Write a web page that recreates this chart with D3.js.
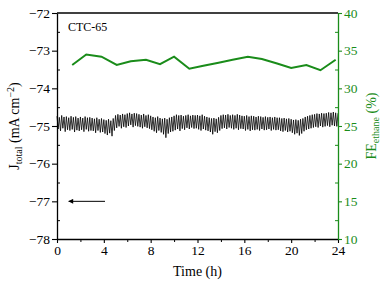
<!DOCTYPE html>
<html><head><meta charset="utf-8">
<script src="https://cdn.jsdelivr.net/npm/d3@7"></script>
<style>body{margin:0;background:#fff}svg{display:block}text{font-family:"Liberation Serif","Times New Roman",serif}</style>
</head><body>
<script>
// Data
const jStart = 0, jStep = 0.1; // h, sampling of the current trace
const jTotal = [
-74.74,-75.08,-74.77,-75.13,-74.72,-75.06,-74.76,-75.15,-74.75,-75.10,
-74.78,-75.12,-74.74,-75.09,-74.77,-75.16,-74.75,-75.11,-74.79,-75.13,
-74.76,-75.10,-74.79,-75.15,-74.75,-75.09,-74.78,-75.14,-74.77,-75.12,
-74.79,-75.13,-74.81,-75.18,-74.78,-75.12,-74.82,-75.17,-74.80,-75.16,
-74.83,-75.20,-74.85,-75.24,-74.82,-75.19,-74.86,-75.27,-74.80,-75.12,
-74.72,-75.05,-74.69,-75.01,-74.71,-75.06,-74.68,-75.02,-74.70,-75.04,
-74.67,-75.00,-74.65,-74.97,-74.68,-75.03,-74.66,-74.99,-74.67,-75.01,
-74.69,-75.03,-74.71,-75.06,-74.68,-75.02,-74.72,-75.05,-74.70,-75.07,
-74.73,-75.10,-74.76,-75.14,-74.78,-75.18,-74.75,-75.12,-74.79,-75.17,
-74.81,-75.22,-74.79,-75.31,-74.82,-75.20,-74.78,-75.16,-74.76,-75.14,
-74.73,-75.11,-74.70,-75.08,-74.72,-75.13,-74.71,-75.07,-74.74,-75.10,
-74.72,-75.05,-74.70,-75.08,-74.73,-75.04,-74.71,-75.07,-74.72,-75.06,
-74.71,-75.09,-74.73,-75.12,-74.70,-75.08,-74.74,-75.11,-74.76,-75.13,
-74.78,-75.16,-74.80,-75.22,-74.79,-75.15,-74.81,-75.18,-74.77,-75.12,
-74.72,-75.07,-74.70,-75.05,-74.71,-75.08,-74.69,-75.04,-74.72,-75.06,
-74.70,-75.09,-74.72,-75.06,-74.69,-75.10,-74.71,-75.07,-74.73,-75.08,
-74.74,-75.12,-74.72,-75.09,-74.75,-75.13,-74.73,-75.10,-74.74,-75.11,
-74.76,-75.09,-74.74,-75.12,-74.75,-75.08,-74.77,-75.11,-74.75,-75.10,
-74.77,-75.08,-74.76,-75.12,-74.78,-75.09,-74.76,-75.11,-74.78,-75.10,
-74.78,-75.13,-74.80,-75.15,-74.79,-75.12,-74.81,-75.16,-74.80,-75.14,
-74.82,-75.18,-74.84,-75.22,-74.83,-75.19,-74.85,-75.25,-74.82,-75.20,
-74.80,-75.14,-74.76,-75.10,-74.74,-75.08,-74.72,-75.06,-74.70,-75.04,
-74.69,-75.02,-74.67,-75.04,-74.68,-75.00,-74.66,-75.03,-74.67,-75.01,
-74.66,-74.99,-74.64,-75.02,-74.65,-74.98,-74.63,-75.00,-74.65,-75.01,
-74.66];
const feTime = [1.3, 2.5, 3.8, 5.1, 6.3, 7.6, 8.8, 10.0, 11.3, 12.5, 13.8, 15.0, 16.3, 17.5, 18.8, 20.0, 21.3, 22.5, 23.8];
const feEthane = [33.1, 34.5, 34.2, 33.1, 33.6, 33.8, 33.2, 34.2, 32.6, 33.0, 33.4, 33.8, 34.2, 33.9, 33.3, 32.7, 33.1, 32.4, 33.8];
const xTicks = [0, 4, 8, 12, 16, 20, 24];
const yLeftTicks = [-72, -73, -74, -75, -76, -77, -78];
const yRightTicks = [10, 15, 20, 25, 30, 35, 40];
const arrowTime = [4.1, 1.0];
const arrowJ = -77;
const sampleLabel = "CTC-65";

const W = 387, H = 283;
const m = {l:57, r:338, t:13, b:239};
const green = "#1a8c1a";

const svg = d3.select("body").append("svg").attr("width", W).attr("height", H);
const x = d3.scaleLinear().domain([0, 24]).range([m.l, m.r]);
const yL = d3.scaleLinear().domain([-78, -72]).range([m.b, m.t]);
const yR = d3.scaleLinear().domain([10, 40]).range([m.b, m.t]);

// J trace
const jData = jTotal.map((v, i) => [jStart + i * jStep, v]);
svg.append("path").datum(jData)
  .attr("fill", "none").attr("stroke", "#000").attr("stroke-width", 0.8)
  .attr("d", d3.line().x(d => x(d[0])).y(d => yL(d[1])));

// FE line
svg.append("path").datum(feTime.map((t, i) => [t, feEthane[i]]))
  .attr("fill", "none").attr("stroke", green).attr("stroke-width", 2)
  .attr("d", d3.line().x(d => x(d[0])).y(d => yR(d[1])));

// frame top
svg.append("line").attr("x1", m.l).attr("x2", m.r).attr("y1", m.t).attr("y2", m.t)
  .attr("stroke", "#000").attr("stroke-width", 1.3);

function styleAxis(g, color) {
  g.select(".domain").attr("stroke", color).attr("stroke-width", 1.3);
  g.selectAll(".tick line").attr("stroke", color).attr("stroke-width", 1.1);
  g.selectAll(".tick text").attr("fill", color).attr("font-size", 13.5);
}

// minor ticks
const xMinor = d3.range(0, 25, 2).filter(v => !xTicks.includes(v));
svg.append("g").attr("transform", `translate(0,${m.b})`)
  .call(d3.axisBottom(x).tickValues(xMinor).tickSize(3).tickFormat(""))
  .call(g => { g.select(".domain").remove(); g.selectAll("line").attr("stroke", "#000"); });
const yLMinor = yLeftTicks.slice(0, -1).map(v => v - 0.5);
svg.append("g").attr("transform", `translate(${m.l},0)`)
  .call(d3.axisRight(yL).tickValues(yLMinor).tickSize(3).tickFormat(""))
  .call(g => { g.select(".domain").remove(); g.selectAll("line").attr("stroke", "#000"); });
const yRMinor = yRightTicks.slice(0, -1).map(v => v + 2.5);
svg.append("g").attr("transform", `translate(${m.r},0)`)
  .call(d3.axisLeft(yR).tickValues(yRMinor).tickSize(3).tickFormat(""))
  .call(g => { g.select(".domain").remove(); g.selectAll("line").attr("stroke", green); });

// axes
svg.append("g").attr("transform", `translate(0,${m.b})`)
  .call(d3.axisBottom(x).tickValues(xTicks).tickSize(4).tickSizeOuter(0).tickPadding(2).tickFormat(d3.format("d")))
  .call(g => styleAxis(g, "#000"));
svg.append("g").attr("transform", `translate(${m.l},0)`)
  .call(d3.axisLeft(yL).tickValues(yLeftTicks).tickSize(5).tickSizeOuter(0).tickPadding(2).tickFormat(d => d3.format("d")(d)))
  .call(g => styleAxis(g, "#000"));
svg.append("g").attr("transform", `translate(${m.r},0)`)
  .call(d3.axisRight(yR).tickValues(yRightTicks).tickSize(4).tickSizeOuter(0).tickPadding(2))
  .call(g => styleAxis(g, green));

// arrow
svg.append("defs").append("marker").attr("id", "ah").attr("viewBox", "0 0 10 10")
  .attr("refX", 9).attr("refY", 5).attr("markerWidth", 7).attr("markerHeight", 5)
  .attr("markerUnits", "userSpaceOnUse").attr("orient", "auto")
  .append("path").attr("d", "M0,0L10,5L0,10Z").attr("fill", "#000");
svg.append("line").attr("x1", x(arrowTime[0])).attr("x2", x(arrowTime[1]))
  .attr("y1", yL(arrowJ)).attr("y2", yL(arrowJ))
  .attr("stroke", "#000").attr("stroke-width", 1).attr("marker-end", "url(#ah)");

// sample label
svg.append("text").attr("x", 68).attr("y", 31).attr("font-size", 12).text(sampleLabel);

// x title
svg.append("text").attr("x", (m.l + m.r) / 2).attr("y", 276).attr("text-anchor", "middle")
  .attr("font-size", 14).text("Time (h)");

// left title
const lt = svg.append("text").attr("transform", `translate(19,${(m.t + m.b) / 2}) rotate(-90)`)
  .attr("text-anchor", "middle").attr("font-size", 14);
lt.append("tspan").text("J");
lt.append("tspan").attr("font-size", 10).attr("dy", 3).text("total");
lt.append("tspan").attr("dy", -3).text(" (mA cm");
lt.append("tspan").attr("font-size", 10).attr("dy", -5).text("−2");
lt.append("tspan").attr("dy", 5).text(")");

// right title
const rt = svg.append("text").attr("transform", `translate(376,${(m.t + m.b) / 2}) rotate(-90)`)
  .attr("text-anchor", "middle").attr("font-size", 14).attr("fill", green);
rt.append("tspan").text("FE");
rt.append("tspan").attr("font-size", 10).attr("dy", 3).text("ethane");
rt.append("tspan").attr("dy", -3).text(" (%)");
</script>
</body></html>
